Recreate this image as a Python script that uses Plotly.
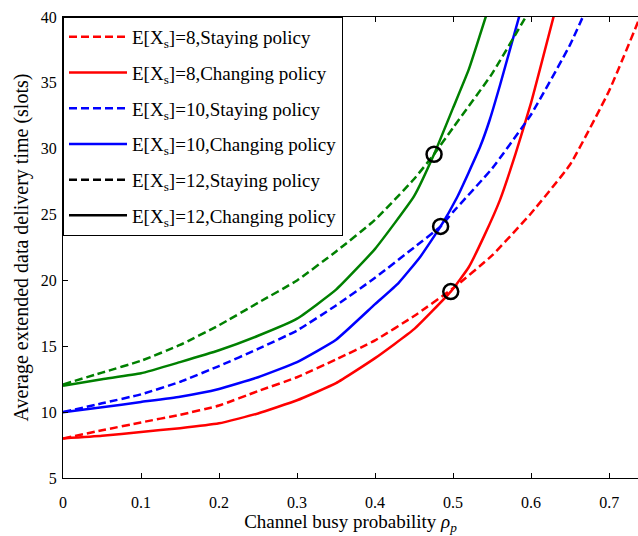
import plotly.graph_objects as go

# ---- data ----
rs_x = [0, 0.05, 0.1, 0.15, 0.2, 0.25, 0.3, 0.35, 0.4, 0.45, 0.5, 0.55, 0.6, 0.65, 0.7, 0.75]
rs_y = [8.0, 8.62, 9.22, 9.8, 10.5, 11.6, 12.65, 14.0, 15.45, 17.3, 19.4, 21.9, 25.1, 28.8, 34.4, 41.5]

rc_x = [0, 0.05, 0.1, 0.15, 0.2, 0.25, 0.3, 0.35, 0.4, 0.45, 0.497, 0.52, 0.54, 0.56, 0.58, 0.6, 0.63]
rc_y = [8.0, 8.2, 8.5, 8.78, 9.15, 9.9, 10.9, 12.2, 14.1, 16.3, 19.15, 21.0, 23.4, 26.1, 29.6, 33.5, 40.3]

bs_x = [0, 0.05, 0.1, 0.15, 0.2, 0.25, 0.3, 0.35, 0.4, 0.45, 0.484, 0.5, 0.55, 0.6, 0.65, 0.67]
bs_y = [10.0, 10.67, 11.35, 12.3, 13.5, 14.8, 16.2, 18.1, 20.2, 22.5, 24.1, 25.2, 28.5, 32.6, 37.9, 40.5]

bc_x = [0, 0.05, 0.1, 0.15, 0.2, 0.25, 0.3, 0.35, 0.4, 0.43, 0.458, 0.484, 0.505, 0.52, 0.535, 0.547, 0.56, 0.585]
bc_y = [10.0, 10.37, 10.77, 11.17, 11.76, 12.65, 13.8, 15.5, 18.2, 19.8, 21.8, 24.1, 26.3, 28.2, 30.2, 32.2, 34.8, 40.1]

gs_x = [0, 0.05, 0.1, 0.15, 0.2, 0.25, 0.3, 0.35, 0.4, 0.45, 0.4756, 0.5, 0.55, 0.595]
gs_y = [12.1, 13.0, 13.9, 15.1, 16.6, 18.3, 20.0, 22.2, 24.6, 27.7, 29.58, 31.6, 35.7, 40.2]

gc_x = [0, 0.05, 0.1, 0.15, 0.2, 0.25, 0.3, 0.35, 0.4, 0.45, 0.4756, 0.5, 0.52, 0.545]
gc_y = [12.0, 12.5, 12.95, 13.8, 14.7, 15.8, 17.1, 19.3, 22.4, 26.4, 29.58, 33.1, 36.0, 40.6]

cross_x = [0.4756, 0.484, 0.497]
cross_y = [29.58, 24.1, 19.15]

legend_names = [
    "E[X<sub>s</sub>]=8,Staying policy",
    "E[X<sub>s</sub>]=8,Changing policy",
    "E[X<sub>s</sub>]=10,Staying policy",
    "E[X<sub>s</sub>]=10,Changing policy",
    "E[X<sub>s</sub>]=12,Staying policy",
    "E[X<sub>s</sub>]=12,Changing policy",
]

x_ticks = [0, 0.1, 0.2, 0.3, 0.4, 0.5, 0.6, 0.7]
x_labels = ["0", "0.1", "0.2", "0.3", "0.4", "0.5", "0.6", "0.7"]
y_ticks = [5, 10, 15, 20, 25, 30, 35, 40]

RED, BLUE, GREEN = "#ff0000", "#0000ff", "#008000"
DASH = "8px,4px"
LW = 2.5
FONT = "Liberation Serif"

fig = go.Figure()

series = [
    (rs_x, rs_y, RED, DASH, RED),
    (rc_x, rc_y, RED, "solid", RED),
    (bs_x, bs_y, BLUE, DASH, BLUE),
    (bc_x, bc_y, BLUE, "solid", BLUE),
    (gs_x, gs_y, GREEN, DASH, "#000000"),
    (gc_x, gc_y, GREEN, "solid", "#000000"),
]

for i, (xs, ys, col, dash, lcol) in enumerate(series):
    fig.add_trace(go.Scatter(
        x=xs, y=ys, mode="lines",
        line=dict(color=col, width=LW, dash=dash, shape="spline", smoothing=0.4),
        showlegend=False, hoverinfo="skip"))

# legend entries (legend of the original shows the E=12 lines in black)
for i, (xs, ys, col, dash, lcol) in enumerate(series):
    fig.add_trace(go.Scatter(
        x=[None], y=[None], mode="lines", name=legend_names[i],
        legendgroup="g%d" % i,
        line=dict(color=lcol, width=LW, dash=dash)))

fig.add_trace(go.Scatter(
    x=cross_x, y=cross_y, mode="markers", showlegend=False,
    marker=dict(symbol="circle-open", size=15, color="black",
                line=dict(color="black", width=2.5))))

fig.update_layout(
    width=638, height=536,
    margin=dict(l=63, r=0, t=17, b=58),
    paper_bgcolor="white", plot_bgcolor="white",
    font=dict(family=FONT, size=16, color="black"),
    showlegend=True,
    legend=dict(x=0, y=1, xanchor="left", yanchor="top",
                bgcolor="white", bordercolor="black", borderwidth=1,
                font=dict(family=FONT, size=19, color="black"),
                traceorder="grouped", tracegroupgap=8,
                itemwidth=58),
    xaxis=dict(range=[0, 0.737], tickvals=x_ticks, ticktext=x_labels,
               ticks="inside", ticklen=5, tickcolor="black",
               showline=True, linecolor="black", linewidth=1, mirror="ticks",
               showgrid=False, zeroline=False, automargin=False,
               ticklabelstandoff=10,
               tickfont=dict(family=FONT, size=16),
               title=dict(text="Channel busy probability <i>ρ<sub>p</sub></i>",
                          font=dict(family=FONT, size=19), standoff=4)),
    yaxis=dict(range=[5, 40], tickvals=y_ticks,
               ticks="inside", ticklen=5, tickcolor="black",
               showline=True, linecolor="black", linewidth=1, mirror=False,
               showgrid=False, zeroline=False, automargin=False,
               ticklabelstandoff=2,
               tickfont=dict(family=FONT, size=16),
               title=dict(text="Average extended data delivery time (slots)",
                          font=dict(family=FONT, size=20), standoff=6)),
)

fig.write_html("out.html")
